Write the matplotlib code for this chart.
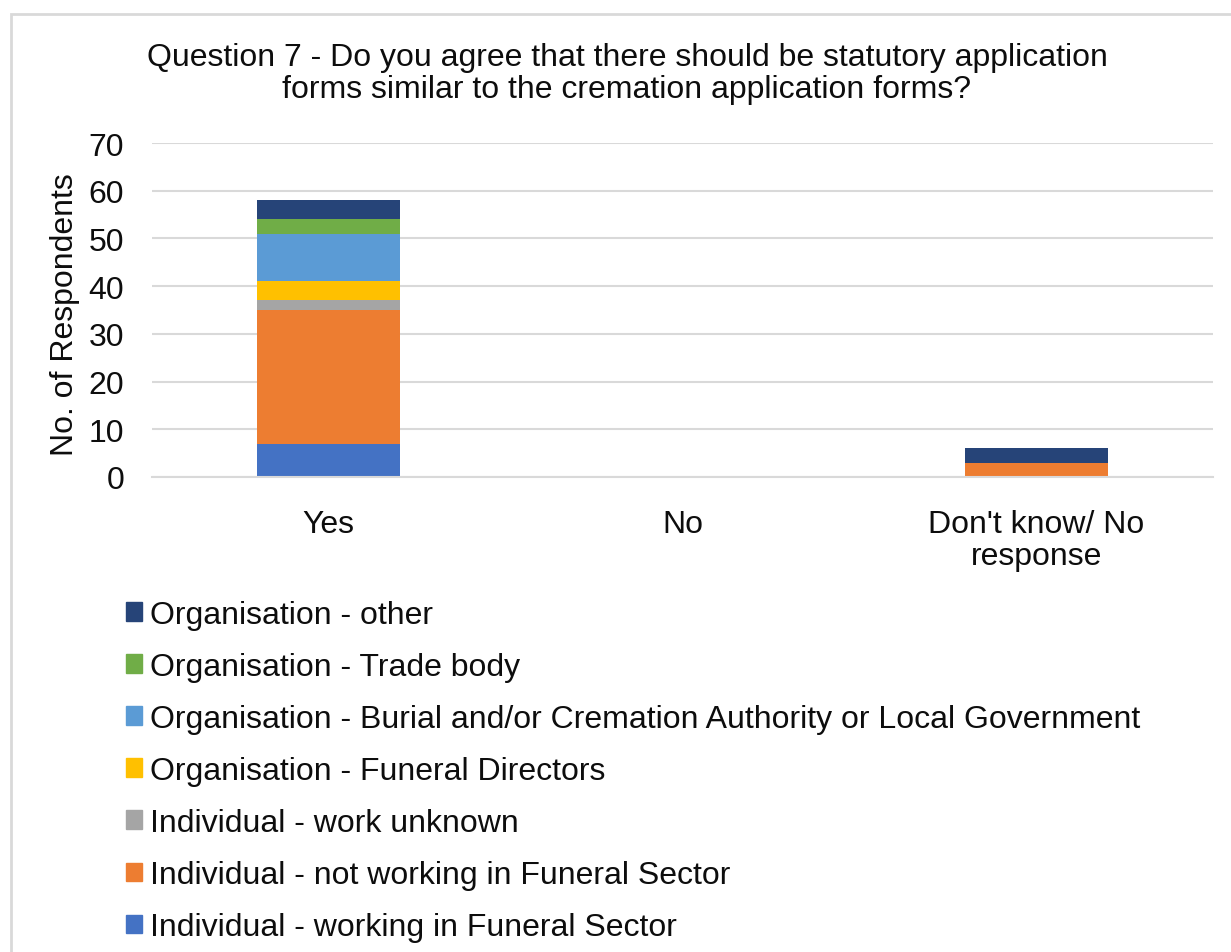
import matplotlib.pyplot as plt
import matplotlib.patches as mpatches
import numpy as np

plt.rcParams['font.family'] = ['Liberation Sans', 'DejaVu Sans']

categories = ["Yes", "No", "Don't know/ No\nresponse"]
groups = [
    "Individual - working in Funeral Sector",
    "Individual - not working in Funeral Sector",
    "Individual - work unknown",
    "Organisation - Funeral Directors",
    "Organisation - Burial and/or Cremation Authority or Local Government",
    "Organisation - Trade body",
    "Organisation - other",
]
values = [
    [7, 0, 0],
    [28, 0, 3],
    [2, 0, 0],
    [4, 0, 0],
    [10, 0, 0],
    [3, 0, 0],
    [4, 0, 3],
]
colors = ["#4472C4", "#ED7D31", "#A5A5A5", "#FFC000", "#5B9BD5", "#70AD47", "#264478"]
txt = "#0D0D0D"

fig = plt.figure(figsize=(12.31, 9.53), dpi=100)
# light chart-area border
fig.patches.append(mpatches.Rectangle((11 / 1231, -0.1), 1.2, 1 - 15 / 953 + 0.1,
                                      transform=fig.transFigure, fill=False,
                                      edgecolor="#D9D9D9", linewidth=2))

ax = fig.add_axes([152 / 1231, 1 - 478 / 953, 1061 / 1231, (478 - 144) / 953])
x = np.arange(len(categories))
bottom = np.zeros(len(categories))
handles = []
for name, vals, c in zip(groups, values, colors):
    vals = np.array(vals, dtype=float)
    ax.bar(x, vals, width=0.404, bottom=bottom, color=c, edgecolor="none")
    bottom += vals
    handles.append(mpatches.Patch(color=c, label=name))

ax.set_xlim(-0.5, 2.5)
ax.set_ylim(0, 70)
ax.set_yticks(range(0, 71, 10))
ax.set_xticks(x)
ax.set_xticklabels(categories, fontsize=23, color=txt, linespacing=1.1)
ax.tick_params(axis='y', labelsize=23, colors=txt, length=0, pad=20)
ax.tick_params(axis='x', length=0, pad=23)
ax.grid(axis='y', color="#D9D9D9", linewidth=1.5)
ax.set_axisbelow(True)
for s in ["top", "right", "left"]:
    ax.spines[s].set_visible(False)
ax.spines["bottom"].set_color("#D9D9D9")
ax.spines["bottom"].set_linewidth(1.5)
ax.set_ylabel("No. of Respondents", fontsize=23, color=txt)
ax.yaxis.set_label_coords(-0.068, 0.49)

fig.text(627 / 1231, 1 - 74 / 953,
         "Question 7 - Do you agree that there should be statutory application\nforms similar to the cremation application forms?",
         ha="center", va="center", fontsize=23, color=txt, linespacing=1.07)

fig.legend(handles=handles[::-1], loc="upper left", bbox_to_anchor=(97 / 1231, 1 - 572 / 953),
           frameon=False, fontsize=23, handlelength=0.5, handleheight=0.5,
           handletextpad=0.25, labelspacing=0.69, labelcolor=txt)

fig.savefig("out.png", dpi=100)
